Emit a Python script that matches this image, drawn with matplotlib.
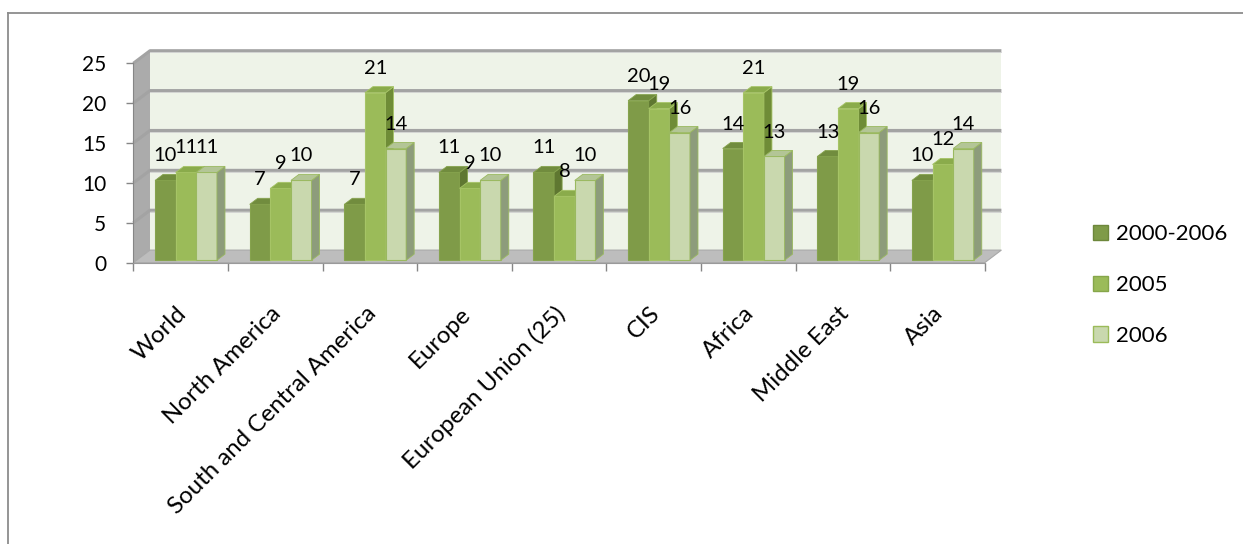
import matplotlib
matplotlib.use("Agg")
import matplotlib.pyplot as plt
from matplotlib.patches import Polygon, Patch
from matplotlib.lines import Line2D
import numpy as np

plt.rcParams['font.family'] = ['Lato', 'DejaVu Sans']

categories = ["World", "North America", "South and Central America", "Europe",
              "European Union (25)", "CIS", "Africa", "Middle East", "Asia"]
series_names = ["2000-2006", "2005", "2006"]
s_2000_2006 = [10, 7, 7, 11, 11, 20, 14, 13, 10]
s_2005 = [11, 9, 21, 9, 8, 19, 21, 19, 12]
s_2006 = [11, 10, 14, 10, 10, 16, 13, 16, 14]
series = [s_2000_2006, s_2005, s_2006]
yticks = [0, 5, 10, 15, 20, 25]

front_c = ['#7f9b48', '#9bbb59', '#c9d8ae']
side_c = ['#5f7731', '#6f8c37', '#8d9c7b']
top_c = ['#718c3e', '#8aab4b', '#b3c596']
edge_c = ['#86a34e', '#a6c466', '#9ab95f']
leg_edge = ['#6d873b', '#86a64a', '#9bbb59']

W_PX, H_PX = 1243, 544
fig = plt.figure(figsize=(W_PX / 100, H_PX / 100), dpi=100)
fig.patch.set_facecolor('white')

x0p, x1p = 133.3, 133.3 + 94.6 * 9
y0p, y1p = 262.7, 63.3
ax = fig.add_axes([x0p / W_PX, 1 - y0p / H_PX, (x1p - x0p) / W_PX, (y0p - y1p) / H_PX])
ax.set_xlim(0, len(categories))
ax.set_ylim(0, 25)
ax.patch.set_visible(False)

XU = (x1p - x0p) / len(categories)
YU = (y0p - y1p) / 25
DX = 16.7 / XU
DY = 12.6 / YU
n = len(categories)

# walls and floor
ax.add_patch(Polygon([(DX, DY), (n + DX, DY), (n + DX, 25 + DY), (DX, 25 + DY)],
                     closed=True, facecolor='#eef3e8', edgecolor='none', zorder=0.5, clip_on=False))
ax.add_patch(Polygon([(0, 0), (DX, DY), (DX, 25 + DY), (0, 25)],
                     closed=True, facecolor='#ababab', edgecolor='none', zorder=0.6, clip_on=False))
ax.add_patch(Polygon([(0, 0), (n, 0), (n + DX, DY), (DX, DY)],
                     closed=True, facecolor='#bdbdbd', edgecolor='#a8a8a8', lw=0.8, zorder=0.7, clip_on=False))
for v in yticks[1:]:
    ax.plot([0, DX, n + DX], [v, v + DY, v + DY], color='#a3a3a3', lw=2.2,
            solid_capstyle='butt', zorder=0.8, clip_on=False)
    ax.plot([DX, n + DX], [v + DY - 0.22, v + DY - 0.22], color='#d0d0d0', lw=0.6,
            zorder=0.81, clip_on=False)

# bars
OFF = 0.195
W = 0.218
D0 = 0.2
DD = 0.48
x_idx = np.arange(n)
for j, vals in enumerate(series):
    lefts = x_idx + OFF + j * W + D0 * DX
    base = D0 * DY
    bars = ax.bar(lefts, vals, width=W, bottom=base, align='edge',
                  color=front_c[j], edgecolor=edge_c[j], linewidth=0.8, clip_on=False)
    for k, b in enumerate(bars):
        b.set_zorder(10 + 3 * j)
        xl = b.get_x()
        xr = xl + b.get_width()
        yb = b.get_y()
        yt = yb + b.get_height()
        ddx, ddy = DD * DX, DD * DY
        ax.add_patch(Polygon([(xr, yb), (xr, yt), (xr + ddx, yt + ddy), (xr + ddx, yb + ddy)],
                             closed=True, facecolor=side_c[j], edgecolor=edge_c[j], lw=0.6,
                             zorder=10 + 3 * j + 1, clip_on=False))
        ax.add_patch(Polygon([(xl, yt), (xr, yt), (xr + ddx, yt + ddy), (xl + ddx, yt + ddy)],
                             closed=True, facecolor=top_c[j], edgecolor=edge_c[j], lw=0.6,
                             zorder=10 + 3 * j + 1, clip_on=False))
        ax.text(xl + W / 2, yt + 2.38, str(vals[k]), ha='center', va='baseline',
                fontsize=14.5, color='black', zorder=50)

# axes styling
for s in ['top', 'right']:
    ax.spines[s].set_visible(False)
ax.spines['left'].set_color('#868686')
ax.spines['bottom'].set_color('#9a9a9a')
ax.spines['left'].set_zorder(5)
ax.spines['bottom'].set_zorder(5)
ax.set_yticks(yticks)
ax.set_yticklabels([str(t) for t in yticks])
ax.tick_params(axis='y', length=5, width=1, color='#868686', pad=14.5, labelsize=15)
ax.set_xticks(np.arange(n + 1))
ax.set_xticklabels([])
ax.tick_params(axis='x', which='major', length=6, width=1, color='#868686')
ax.set_xticks(x_idx + 0.5 - 0.05, minor=True)
ax.set_xticklabels(categories, minor=True, rotation=45, ha='right', va='top',
                   rotation_mode='anchor')
ax.tick_params(axis='x', which='minor', length=0, pad=29, labelsize=17.3)

# legend
handles = [Patch(facecolor=front_c[j], edgecolor=leg_edge[j], linewidth=1) for j in range(3)]
fig.legend(handles, series_names, loc='center left',
           bbox_to_anchor=(1093 / W_PX, 1 - 285 / H_PX), frameon=False,
           fontsize=16, handlelength=0.68, handleheight=0.68, handletextpad=0.35,
           labelspacing=1.38, borderpad=0, borderaxespad=0)

# outer chart border (top and left visible)
fig.add_artist(Line2D([8 / W_PX, 8 / W_PX], [0, 1 - 13 / H_PX], color='#8c8c8c', lw=1.3))
fig.add_artist(Line2D([8 / W_PX, 1], [1 - 13 / H_PX, 1 - 13 / H_PX], color='#8c8c8c', lw=1.3))

fig.savefig('out.png', dpi=100)
